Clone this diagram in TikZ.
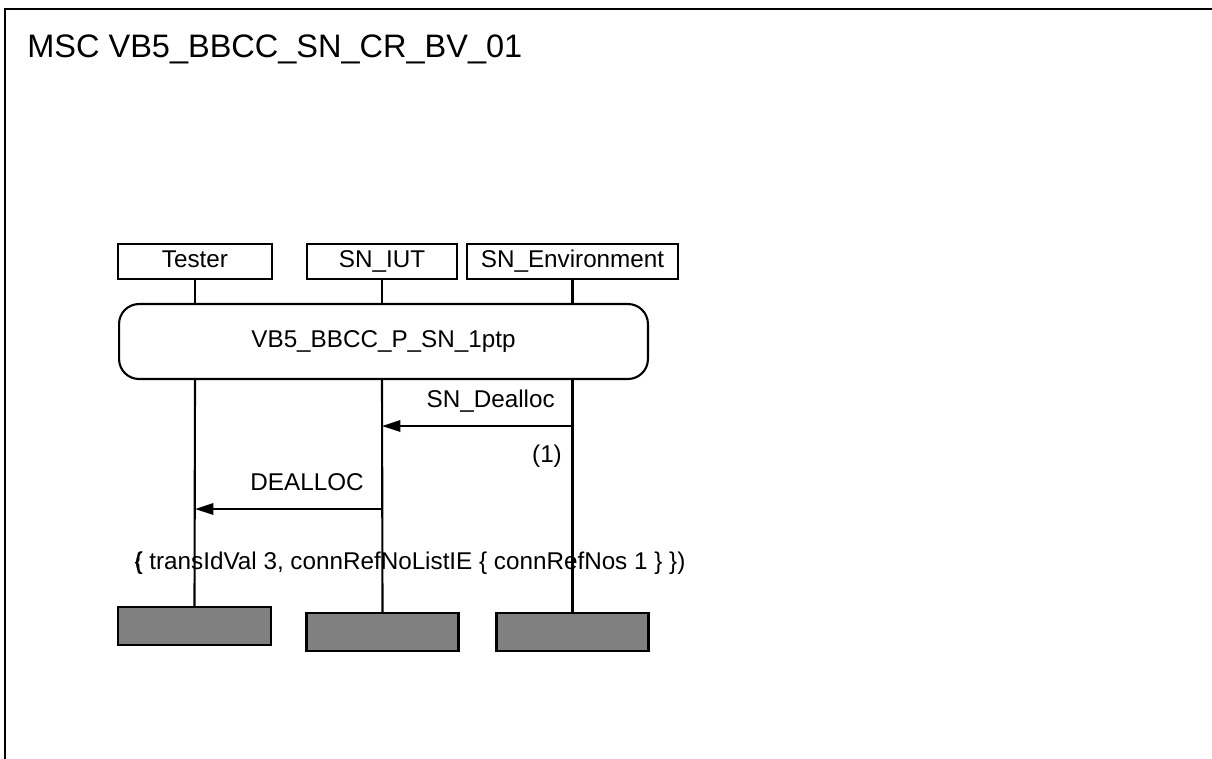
\documentclass[tikz,border=0pt]{standalone}
\usepackage{fontspec}
\setmainfont{Liberation Sans}
\usetikzlibrary{arrows.meta,positioning,calc}
\definecolor{stopgray}{HTML}{808080}

\begin{document}
\begin{tikzpicture}[x=0.02cm,y=-0.02cm,
  inst/.style={draw,line width=1.2pt,minimum height=0.7cm,inner sep=0pt,text height=10pt,text depth=3pt,font=\fontsize{13.8}{16}\selectfont},
  stopbox/.style={draw,line width=1.2pt,fill=stopgray,minimum height=0.76cm,minimum width=3.04cm,inner sep=0pt},
  lifeline/.style={line width=1.2pt},
  msg/.style={line width=1.2pt,-{Triangle[length=10.5pt,width=6.5pt]}},
  lbl/.style={font=\fontsize{13.8}{16}\selectfont,inner sep=0pt}]
  \useasboundingbox (0,0) rectangle (1212,758);

  % Frame (runs off the right and bottom)
  \begin{scope}
    \clip (0,0) rectangle (1212,758);
    \draw[line width=1.2pt] (5,9) rectangle (1240,790);
  \end{scope}
  \node[anchor=base west,inner sep=0pt,font=\fontsize{18.5}{22}\selectfont] (title) at (27,57) {MSC VB5\_BBCC\_SN\_CR\_BV\_01};

  % Instance heads
  \node[inst,minimum width=3.08cm] (tester) at (195,261.5) {Tester};
  \node[inst,minimum width=3.0cm] (iut) at (382,261.5) {SN\_IUT};
  \node[inst,minimum width=4.22cm] (env) at (572.5,261.5) {SN\_Environment};

  % Reference
  \node[draw,line width=1.2pt,rounded corners=0.4cm,minimum width=10.58cm,minimum height=1.5cm,
    text height=10pt,text depth=3pt,font=\fontsize{13.8}{16}\selectfont] (ref) at (383.5,341.5) {VB5\_BBCC\_P\_SN\_1ptp};

  % Instance ends
  \node[stopbox,minimum width=3.06cm] (testerEnd) at (194.5,626) {};
  \node[stopbox] (iutEnd) at (382.5,632) {};
  \node[stopbox] (envEnd) at (572.5,632) {};

  % Lifelines
  \foreach \i in {tester,iut,env}{
    \draw[lifeline] (\i.south) -- (\i.south |- ref.north);
    \draw[lifeline] (\i.south |- ref.south) -- (\i End.north);
  }

  % SN_Dealloc
  \coordinate (envA) at (env.south |- 0,426);
  \coordinate (iutA) at (iut.south |- 0,426);
  \draw[msg] (envA) -- (iutA);
  \node[lbl,anchor=base east] (deallocLbl) at (555,407) {SN\_Dealloc};
  \node[lbl] (one) at (547,456) {(1)};

  % DEALLOC
  \coordinate (iutB) at (iut.south |- 0,509);
  \coordinate (testerB) at (tester.south |- 0,509);
  \draw[msg] (iutB) -- (testerB);
  \node[lbl,anchor=base east] (deallocTxt) at (364,490) {DEALLOC};
  \node[lbl] (params) at (410,563) {\rlap{(}\{ transIdVal 3, connRefNoListIE \{ connRefNos 1 \} \})};
\end{tikzpicture}
\end{document}
